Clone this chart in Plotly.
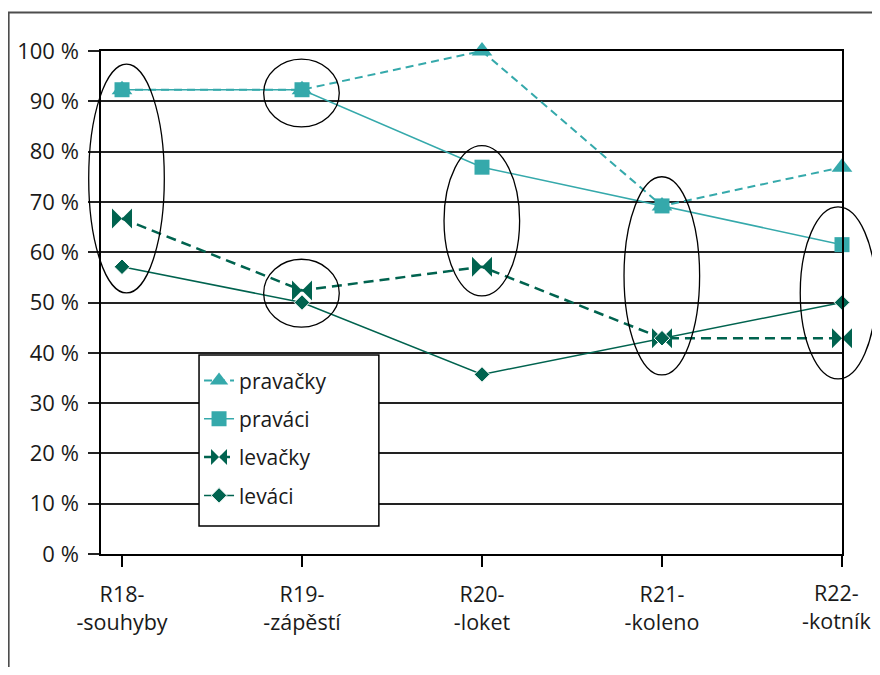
import plotly.graph_objects as go

categories = ["R18-<br>-souhyby", "R19-<br>-zápěstí", "R20-<br>-loket", "R21-<br>-koleno", "R22-<br>-kotník"]
pravacky = [92.3, 92.3, 100.0, 69.2, 76.9]
pravaci = [92.3, 92.3, 76.9, 69.2, 61.5]
levacky = [66.7, 52.4, 57.1, 42.9, 42.9]
levaci = [57.1, 50.0, 35.7, 42.9, 50.0]
y_ticks = [0, 10, 20, 30, 40, 50, 60, 70, 80, 90, 100]
y_ticklabels = [f"{v} %" for v in y_ticks]

# highlighted groups: (category index, y low %, y high %)
ellipses = [
    (0.025, 51.9, 97.4),
    (0.997, 84.9, 98.4),
    (0.997, 45.1, 58.6),
    (1.999, 51.3, 81.2),
    (2.999, 35.6, 75.0),
    (3.978, 34.8, 69.0),
]

TEAL = "#35A9AB"
GREEN = "#00634F"
FONT = "Open Sans"
TICKSIZE = 21.5

x_idx = list(range(len(categories)))
XMIN, XMAX = -0.1167, 4.0
YMIN, YMAX = 0, 100

fig = go.Figure()
fig.add_trace(go.Scatter(x=x_idx, y=pravacky, name="pravačky", legendgroup="a",
                         mode="lines+markers", cliponaxis=False,
                         line=dict(color=TEAL, width=2, dash="8px,5px"),
                         marker=dict(symbol="triangle-up", size=18, color=TEAL)))
fig.add_trace(go.Scatter(x=x_idx, y=pravaci, name="praváci", legendgroup="b",
                         mode="lines+markers", cliponaxis=False,
                         line=dict(color=TEAL, width=1.5),
                         marker=dict(symbol="square", size=15, color=TEAL)))
fig.add_trace(go.Scatter(x=x_idx, y=levacky, name="levačky", legendgroup="c",
                         mode="lines+markers", cliponaxis=False,
                         line=dict(color=GREEN, width=2.5, dash="10px,6px"),
                         marker=dict(symbol="bowtie", size=20, color=GREEN)))
fig.add_trace(go.Scatter(x=x_idx, y=levaci, name="leváci", legendgroup="d",
                         mode="lines+markers", cliponaxis=False,
                         line=dict(color=GREEN, width=1.5),
                         marker=dict(symbol="diamond", size=12, color=GREEN,
                                     line=dict(color="white", width=1))))

def xp(v):
    return (v - XMIN) / (XMAX - XMIN)

def yp(v):
    return (v - YMIN) / (YMAX - YMIN)

HW = 0.21
for cx, ylo, yhi in ellipses:
    fig.add_shape(type="circle", xref="paper", yref="paper",
                  x0=xp(cx - HW), x1=xp(cx + HW), y0=yp(ylo), y1=yp(yhi),
                  line=dict(color="black", width=1.3), layer="above")

# legend box
fig.add_shape(type="rect", xref="paper", yref="paper",
              x0=0.1323, x1=0.375, y0=0.0557, y1=0.3956,
              fillcolor="white", line=dict(color="black", width=1.5), layer="above")

# outer frame
fig.add_shape(type="rect", xref="paper", yref="paper",
              x0=-0.1248, x1=1.2, y0=-0.4, y1=1.0765,
              line=dict(color="#4d4d4d", width=2.2), layer="below")

# last category label as annotation, nudged left so it stays inside the page
tick_text = categories[:-1] + [""]
fig.add_annotation(x=x_idx[-1], y=0, xref="x", yref="paper",
                   text=categories[-1], showarrow=False,
                   xanchor="center", yanchor="top", xshift=-6, yshift=-22,
                   font=dict(family=FONT, size=TICKSIZE, color="#1a1a1a"))

fig.update_layout(
    width=864, height=659,
    margin=dict(l=93, r=30, t=43, b=113, autoexpand=False),
    paper_bgcolor="white", plot_bgcolor="white",
    font=dict(family=FONT, size=22, color="#1a1a1a"),
    showlegend=True,
    legend=dict(x=0.1323, y=0.385, xanchor="left", yanchor="top",
                bgcolor="rgba(0,0,0,0)", borderwidth=0,
                font=dict(family=FONT, size=21, color="#1a1a1a"),
                tracegroupgap=8, traceorder="grouped"),
    xaxis=dict(range=[XMIN, XMAX], tickvals=x_idx, ticktext=tick_text,
               automargin=False,
               showgrid=False, zeroline=False, showline=True, linecolor="black",
               linewidth=1.5, mirror=True, ticks="outside", ticklen=11,
               tickcolor="black", tickwidth=1.5, tickfont=dict(size=TICKSIZE),
               ticklabelstandoff=9),
    yaxis=dict(range=[YMIN, YMAX], tickvals=y_ticks, ticktext=y_ticklabels,
               automargin=False,
               showgrid=True, gridcolor="#222", gridwidth=1.5, zeroline=False,
               showline=True, linecolor="black", linewidth=1.5, mirror=True,
               ticks="outside", ticklen=11, tickcolor="#222", tickwidth=1.5,
               tickfont=dict(size=22), ticklabelstandoff=5),
)

fig.write_html("out.html")
